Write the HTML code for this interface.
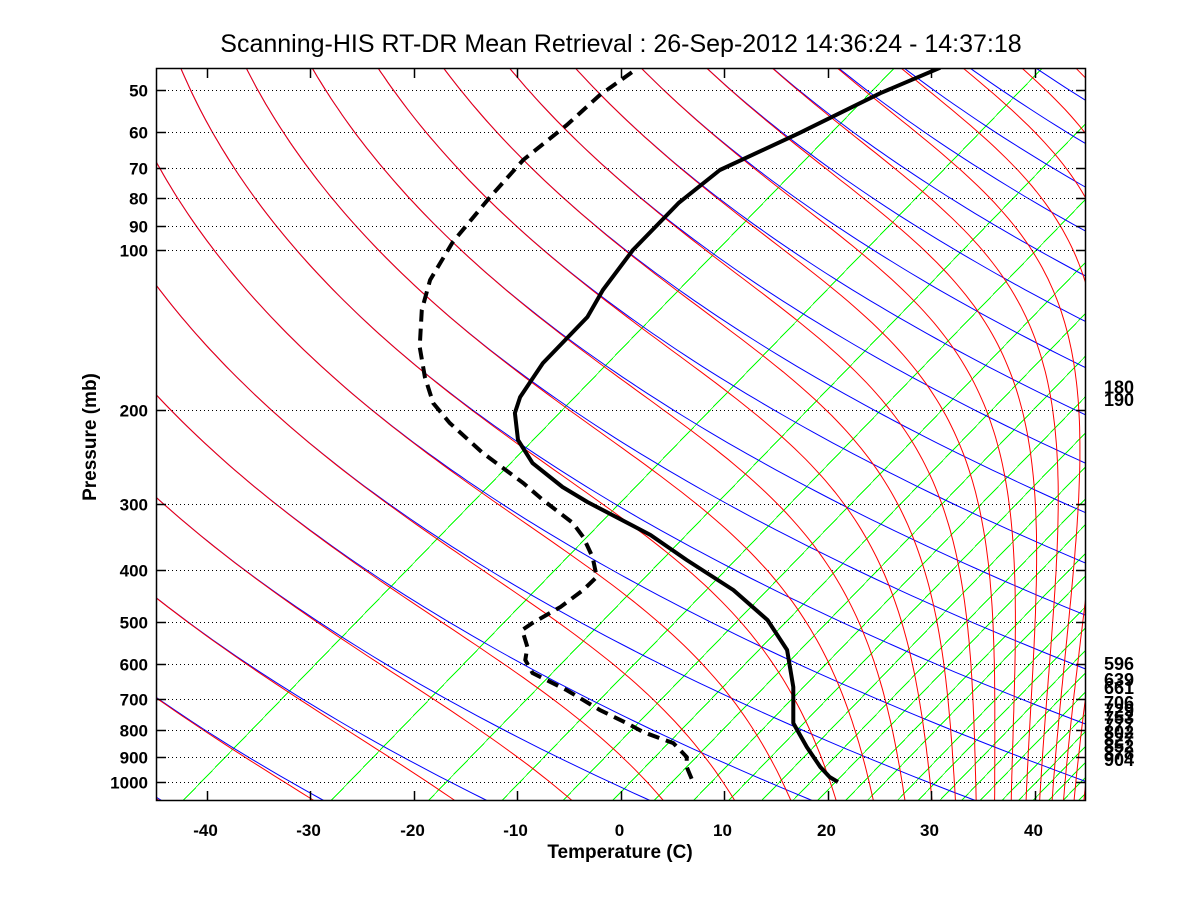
<!DOCTYPE html>
<html>
<head>
<meta charset="utf-8">
<style>
  html,body{margin:0;padding:0;background:#fff;}
  svg{display:block;}
  text{font-family:"Liberation Sans",Arial,sans-serif;}
  .tl{font-size:18px;font-weight:bold;fill:#000;}
</style>
</head>
<body>
<svg id="chart" width="1200" height="900" viewBox="0 0 1200 900" xmlns="http://www.w3.org/2000/svg">
  <defs>
    <clipPath id="plotClip"><rect x="156" y="68" width="930" height="733"/></clipPath>
  </defs>
  <rect x="0" y="0" width="1200" height="900" fill="#fff"/>
  <text x="621" y="52" text-anchor="middle" font-size="25" fill="#000">Scanning-HIS RT-DR Mean Retrieval : 26-Sep-2012 14:36:24 - 14:37:18</text>
  <g id="lines" clip-path="url(#plotClip)">
    <g id="green"></g>
    <g id="blue"></g>
    <g id="red"></g>
    <g id="grid"></g>
    <g id="sound"></g>
  </g>
  <g id="axes"></g>
  <text x="620" y="858" text-anchor="middle" font-size="19" font-weight="bold" fill="#000">Temperature (C)</text>
  <text x="0" y="0" transform="translate(96,437) rotate(-90)" text-anchor="middle" font-size="19" font-weight="bold" fill="#000">Pressure (mb)</text>
  <g id="rlabels"></g>
</svg>
<script>
// ---- data ----
const tempTicks = [-40,-30,-20,-10,0,10,20,30,40];
const presTicks = [50,60,70,80,90,100,200,300,400,500,600,700,800,900,1000];
const thetaLines = [210.5,225.9,241.2,256.6,272.0,287.3,302.7,318.1,333.5,348.8,364.2,379.6,394.9,410.3,425.7,441.1,456.4,471.8,487.2,502.5,517.9,533.3,548.7,564.0,579.4];
const greenBaseT = [-42.3,-28.0,-18.6,-11.5,-5.6,-0.8,3.2,7.0,10.4,13.6,16.6,19.0,21.7,23.8,26.7,28.7,30.8,32.9,34.7,36.8,38.4,39.8,41.3,42.7,44.2];
const tempP = [45.4,50.7,60.2,70.7,81.6,100,118.9,133.7,163.2,189.1,202.6,227.8,251.7,279.2,298.0,343.7,383.1,436.3,496.8,565.6,664.2,776.3,861.0,939.0,980.6,1002];
const tempT = [30.9,25.1,17.3,9.6,5.6,1.2,-1.7,-3.2,-7.5,-9.7,-10.2,-9.9,-8.5,-5.6,-3.2,2.9,6.4,10.9,14.2,16.1,16.7,16.7,18.0,19.3,20.2,21.0];
const dewP = [46.3,51.1,58.2,67.7,79.5,96.6,113.9,129.7,152.2,173.4,194.1,211.6,241.0,274.4,295.4,326.3,346.7,378.2,412.4,436.3,469.6,503.3,518.8,558.3,590.6,625.0,672.9,733.7,776.3,807.2,846.6,899.4,939.0,1002];
const dewT = [1.1,-2.0,-5.2,-9.4,-12.6,-16.2,-18.4,-19.2,-19.4,-18.9,-18.1,-16.5,-13.3,-9.4,-7.5,-4.6,-3.6,-2.7,-2.3,-3.6,-5.8,-8.5,-9.5,-9.0,-9.2,-8.5,-5.2,-2.0,0.6,2.2,5.1,6.4,6.4,7.0];
const levelLabels = [180,190,596,639,661,706,729,753,777,802,827,852,878,904];

// ---- scales ----
const SKEW = 69.1;
function yOf(p){ return 250 + 531.5*Math.log10(p/100); }
function xOf(lbl){ return 620.5 + 10.35*lbl; }
function xTP(Tc,p){ return xOf(Tc + SKEW*Math.log10(1000/p)); }
const NS = "http://www.w3.org/2000/svg";
function mk(tag, attrs, parent){
  const e = document.createElementNS(NS, tag);
  for (const k in attrs) e.setAttribute(k, attrs[k]);
  parent.appendChild(e);
  return e;
}
const pSamples = [];
for (let i=0;i<=140;i++){ pSamples.push(40*Math.pow(1100/40, i/140)); }

function thetaE(T,p){
  const Tk=T+273.15;
  const es=6.112*Math.exp(17.67*T/(T+243.5));
  if (p-es<=0.5) return 1e9;
  const r=0.622*es/(p-es);
  return Tk*Math.pow(1000/p,0.2857)*Math.exp(2.5e6*r/(1005*Tk));
}
function solveMoist(te,p){
  let lo=-150, hi=70;
  for(let i=0;i<50;i++){ const m=(lo+hi)/2; if(thetaE(m,p)>te) hi=m; else lo=m; }
  return (lo+hi)/2;
}

// green lines
const gG = document.getElementById('green');
greenBaseT.forEach((t,i)=>{
  const x0 = xOf(t), y0 = 801, y1 = 68;
  const x1 = x0 + (y0-y1)/1.03;
  const l = mk('line',{x1:x0,y1:y0,x2:x1,y2:y1,stroke:'#00ff00','stroke-width':1,'shape-rendering':'crispEdges'},gG);
  
  
});

// blue dry adiabats
const gB = document.getElementById('blue');
thetaLines.forEach(th=>{
  const pts = pSamples.map(p=>{
    const T = th*Math.pow(p/1000,0.2857)-273.15;
    return xTP(T,p).toFixed(1)+','+yOf(p).toFixed(1);
  });
  const pl = mk('polyline',{points:pts.join(' '),fill:'none',stroke:'#0000ff','stroke-width':1},gB);
  
  
});

// red moist adiabats
const gR = document.getElementById('red');
thetaLines.forEach(te=>{
  const pts = pSamples.map(p=>{
    const T = solveMoist(te,p);
    return xTP(T,p).toFixed(1)+','+yOf(p).toFixed(1);
  });
  const pl = mk('polyline',{points:pts.join(' '),fill:'none',stroke:'#ff0000','stroke-width':1},gR);
  
  
});

// grid
const gGrid = document.getElementById('grid');
presTicks.forEach(p=>{
  const y = Math.round(yOf(p))+0.5;
  const l = mk('line',{x1:156,y1:y,x2:1086,y2:y,stroke:'#000','stroke-width':1,'stroke-dasharray':'1 3','shape-rendering':'crispEdges'},gGrid);
  
  
});

// sounding
const gS = document.getElementById('sound');
function profile(P,T){ return P.map((p,i)=>xOf(T[i]).toFixed(1)+','+yOf(p).toFixed(1)).join(' '); }
const tl = mk('polyline',{points:profile(tempP,tempT),fill:'none',stroke:'#000','stroke-width':4,'stroke-linejoin':'round'},gS);


const dl = mk('polyline',{points:profile(dewP,dewT),fill:'none',stroke:'#000','stroke-width':4,'stroke-dasharray':'12 7'},gS);



// axes
const gA = document.getElementById('axes');
const frame = mk('rect',{x:156.5,y:68.5,width:929,height:732,fill:'none',stroke:'#000','stroke-width':1.5},gA);


tempTicks.forEach(t=>{
  const x = Math.round(xOf(t))+0.5;
  const a = mk('line',{x1:x,y1:801,x2:x,y2:791,stroke:'#000','stroke-width':1.5},gA);
  
  
  const b = mk('line',{x1:x,y1:68,x2:x,y2:78,stroke:'#000','stroke-width':1.5},gA);
  
  
  const tx = mk('text',{x:x-2,y:836,'text-anchor':'middle','font-size':17,'font-weight':'bold'},gA);
  tx.textContent = String(t);
  
  
});
presTicks.forEach(p=>{
  const y = Math.round(yOf(p))+0.5;
  const a = mk('line',{x1:156,y1:y,x2:166,y2:y,stroke:'#000','stroke-width':1.5},gA);
  
  
  const b = mk('line',{x1:1076,y1:y,x2:1086,y2:y,stroke:'#000','stroke-width':1.5},gA);
  
  
  const tx = mk('text',{x:148,y:y+6,'text-anchor':'end','font-size':17,'font-weight':'bold'},gA);
  tx.textContent = String(p);
  
  
});

// right-side level labels
const gL = document.getElementById('rlabels');
levelLabels.forEach(v=>{
  const tx = mk('text',{x:1104,y:yOf(v)+8,'class':'tl'},gL);
  tx.textContent = String(v);
  
  
});
</script>
</body>
</html>
